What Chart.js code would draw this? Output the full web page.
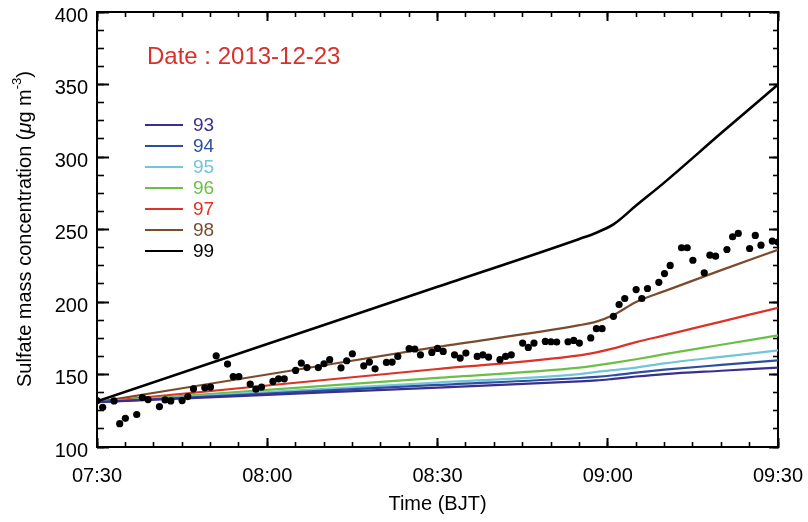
<!DOCTYPE html>
<html>
<head>
<meta charset="utf-8">
<script src="https://cdn.jsdelivr.net/npm/chart.js@4.4.1/dist/chart.umd.min.js"></script>
<style>
  html, body { margin: 0; padding: 0; background: #fff; }
  #wrap { width: 808px; height: 522px; }
</style>
</head>
<body>
<div id="wrap"><canvas id="chart" width="808" height="522"></canvas></div>
<script>
// times are minutes after midnight (450 = 07:30)
const modelTimes = [450, 480, 510, 535, 538, 541, 545, 550, 560, 570];
const run93 = [131, 136.0, 141.0, 145.2, 145.9, 147.0, 148.6, 150.3, 152.6, 154.8];
const run94 = [131, 136.9, 142.8, 147.6, 148.4, 149.5, 151.3, 153.3, 156.6, 159.8];
const run95 = [131, 137.8, 144.5, 150.2, 151.8, 153.0, 154.8, 157.7, 162.2, 166.6];
const run96 = [131, 139.4, 147.7, 154.7, 156.3, 158.0, 160.5, 164.0, 170.5, 177.0];
const run97 = [131, 142.4, 153.8, 163.2, 165.3, 168.0, 172.3, 177.0, 186.5, 196.0];
const run98 = [131, 150.0, 169.0, 184.0, 186.5, 191.0, 200.0, 207.5, 222.0, 236.0];
const run99 = [131.5, 171.0, 210.5, 243.5, 247.8, 253.5, 266.5, 282.5, 316.5, 350.0];

const runNames = ['93', '94', '95', '96', '97', '98', '99'];
const runColors = ['#3b2e8e', '#2c4f9f', '#72c4d9', '#6bbf47', '#dd3226', '#7a4b2c', '#000000'];

const obsTimes = [450,451,453,454,455,457,458,459,461,462,463,465,466,467,469,470,471,473,474,475,
  477,478,479,481,482,483,485,486,487,489,490,491,493,494,495,497,498,499,501,502,503,505,506,507,
  509,510,511,513,514,515,517,518,519,521,522,523,525,526,527,529,530,531,533,534,535,537,538,539,
  541,542,543,545,546,547,549,550,551,553,554,555,557,558,559,561,562,563,565,566,567,569,570];
const obsSulfate = [132,127.4,131.8,116.1,119.8,122.4,134.1,132.7,127.9,132.5,131.8,132,134.8,140.1,
  140.8,141.3,162.9,157.2,148.6,148.6,143.4,139.9,141.3,145.2,147,147,152.8,157.9,154.8,154.8,157.4,
  160.2,154.6,159.5,164.3,156,158.6,153.9,158.3,158.6,162.5,167.8,167.6,163.6,165.2,168,165.9,163.6,
  161.3,164.8,162.5,163.6,162,160.2,162.5,163.6,171.7,168.7,171.7,172.8,172.6,172.4,172.6,173.5,
  171.7,175.2,181.6,181.6,190.1,198.2,202.4,208.6,202.4,209.3,213.6,219.6,225.2,237.4,237.4,228.8,
  220.1,232.3,231.6,236.2,245,247.3,236.9,245.9,239.2,242,241.3];

const dateText = 'Date : 2013-12-23';
const FONT = "'Liberation Sans', Arial, Helvetica, sans-serif";

const runs = [run93, run94, run95, run96, run97, run98, run99];

const toXY = (xs, ys) => xs.map((x, i) => ({ x: x, y: ys[i] }));
const hhmm = (v) => String(Math.floor(v / 60)).padStart(2, '0') + ':' + String(v % 60).padStart(2, '0');

const datasets = [
  {
    label: 'obs',
    data: toXY(obsTimes, obsSulfate),
    showLine: false,
    pointRadius: 3.6,
    pointBackgroundColor: '#000',
    pointBorderWidth: 0,
  },
];
runs.forEach((vals, i) => {
  datasets.push({
    label: runNames[i],
    data: toXY(modelTimes, vals),
    borderColor: runColors[i],
    borderWidth: i === 6 ? 2.6 : 2.2,
    pointRadius: 0,
    cubicInterpolationMode: 'monotone',
  });
});
// black run on top of the coloured ones
datasets.splice(1, 0, datasets.pop());

const tickGrid = (len, w) => ({ drawOnChartArea: false, tickLength: -len, tickWidth: w, tickColor: '#000' });
const noTicks = { drawOnChartArea: false, drawTicks: false };
const solidBorder = { display: true, color: '#000', width: 2 };

function sideScale(pos, min, max, step, grid, size, weight, extra) {
  const horiz = pos === 'top' || pos === 'bottom';
  return Object.assign({
    type: 'linear',
    position: pos,
    min: min,
    max: max,
    weight: weight,
    grid: grid,
    border: weight ? solidBorder : { display: false },
    ticks: { display: false, stepSize: step, autoSkip: false, padding: 0 },
    afterFit: (s) => { if (horiz) s.height = size; else s.width = size; },
  }, extra || {});
}

// titles, date and legend
const annotations = {
  id: 'annotations',
  afterDraw(chart) {
    const ctx = chart.ctx;
    ctx.save();
    ctx.textBaseline = 'middle';

    ctx.fillStyle = '#d8302a';
    ctx.font = '24px ' + FONT;
    ctx.textAlign = 'left';
    ctx.fillText(dateText, 147, 57);

    ctx.font = '19px ' + FONT;
    runNames.forEach((name, i) => {
      const y = 125 + i * 21;
      ctx.strokeStyle = runColors[i];
      ctx.lineWidth = 2;
      ctx.beginPath();
      ctx.moveTo(145, y);
      ctx.lineTo(183, y);
      ctx.stroke();
      ctx.fillStyle = runColors[i];
      ctx.fillText(name, 193, y + 1);
    });

    ctx.fillStyle = '#000';
    ctx.font = '20px ' + FONT;
    ctx.textAlign = 'center';
    ctx.fillText('Time (BJT)', (chart.chartArea.left + chart.chartArea.right) / 2, 504);

    // rotated y title with superscript
    const parts = [
      { t: 'Sulfate mass concentration (', f: '20px ' + FONT, dy: 0 },
      { t: '\u03bc', f: 'italic 20px ' + FONT, dy: 0 },
      { t: 'g m', f: '20px ' + FONT, dy: 0 },
      { t: '-3', f: '13px ' + FONT, dy: -8 },
      { t: ')', f: '20px ' + FONT, dy: 0 },
    ];
    let total = 0;
    parts.forEach((p) => { ctx.font = p.f; p.w = ctx.measureText(p.t).width; total += p.w; });
    ctx.translate(25, 229);
    ctx.rotate(-Math.PI / 2);
    ctx.textAlign = 'left';
    let x = -total / 2;
    parts.forEach((p) => {
      ctx.font = p.f;
      ctx.fillText(p.t, x, p.dy);
      x += p.w;
    });
    ctx.restore();
  },
};

new Chart(document.getElementById('chart'), {
  type: 'line',
  data: { datasets: datasets },
  options: {
    responsive: false,
    animation: false,
    layout: { padding: 0 },
    plugins: { legend: { display: false }, tooltip: { enabled: false } },
    scales: {
      x: sideScale('bottom', 450, 570, 30, tickGrid(9, 2), 75, 1, {
        ticks: {
          display: true, stepSize: 30, autoSkip: false, maxRotation: 0, padding: 0,
          color: '#000', font: { family: FONT, size: 20, lineHeight: 3.85 },
          callback: (v) => hhmm(v),
        },
      }),
      xMinor: sideScale('bottom', 450, 570, 5, tickGrid(5, 1.6), 0, 0),
      xTop: sideScale('top', 450, 570, 30, tickGrid(9, 2), 12, 1),
      xTopMinor: sideScale('top', 450, 570, 5, tickGrid(5, 1.6), 0, 0),
      y: sideScale('left', 100, 400, 50, noTicks, 97, 2, {
        ticks: {
          display: true, stepSize: 50, autoSkip: false, padding: 9, labelOffset: 4,
          color: '#000', font: { family: FONT, size: 20, lineHeight: 0.1 },
        },
      }),
      yMajor: sideScale('left', 100, 400, 50, tickGrid(12, 2), 0, 0),
      yMinor: sideScale('left', 100, 400, 12.5, tickGrid(7, 1.6), 0, 0),
      yRight: sideScale('right', 100, 400, 50, tickGrid(9, 2), 30, 1),
      yRightMinor: sideScale('right', 100, 400, 12.5, tickGrid(5, 1.6), 0, 0),
    },
  },
  plugins: [annotations],
});
</script>
</body>
</html>
